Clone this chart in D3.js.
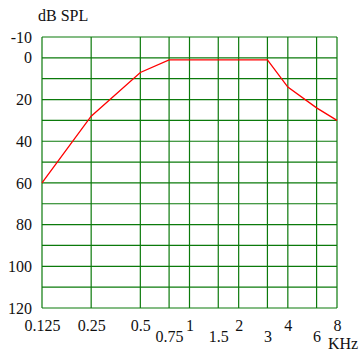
<!DOCTYPE html>
<html>
<head>
<meta charset="utf-8">
<script src="https://cdn.jsdelivr.net/npm/d3@7"></script>
<style>
  body { margin: 0; background: #fff; }
  svg { display: block; }
  text { font-family: "Liberation Serif", "Times New Roman", serif; fill: #111; }
</style>
</head>
<body>
<div id="chart"></div>
<script>
// audiogram-style response curve
const freqTicks = [0.125, 0.25, 0.5, 0.75, 1, 1.5, 2, 3, 4, 6, 8];
const freqLabels = ["0.125", "0.25", "0.5", "0.75", "1", "1.5", "2", "3", "4", "6", "8"];
const lowLabels = [0.75, 1.5, 3, 6]; // these sit one line lower
const dbLabels = [-10, 0, 20, 40, 60, 80, 100, 120];
const dbGrid = [-10, 0, 10, 20, 30, 40, 50, 60, 70, 80, 90, 100, 110, 120];

const curveFreq = [0.125, 0.25, 0.5, 0.75, 3, 4, 6, 8];
const curveDb = [60, 28, 7, 1, 1, 14, 24, 30];

const W = 360, H = 351;
const plotLeft = 42, plotRight = 337, plotTop = 37, plotBottom = 308;

const svg = d3.select("#chart").append("svg")
    .attr("width", W)
    .attr("height", H);

const x = d3.scaleLog().domain([0.125, 8]).range([plotLeft, plotRight]);
const y = d3.scaleLinear().domain([-10, 120]).range([plotTop, plotBottom]);

const gridColor = "#0b7a0b";

// horizontal grid
svg.append("g").selectAll("line")
    .data(dbGrid).enter()
    .append("line")
    .attr("x1", plotLeft).attr("x2", plotRight)
    .attr("y1", d => y(d)).attr("y2", d => y(d))
    .attr("stroke", gridColor)
    .attr("stroke-width", 1.2);

// vertical grid
svg.append("g").selectAll("line")
    .data(freqTicks).enter()
    .append("line")
    .attr("x1", d => x(d)).attr("x2", d => x(d))
    .attr("y1", plotTop).attr("y2", plotBottom)
    .attr("stroke", gridColor)
    .attr("stroke-width", 1.2);

// y labels (plain hyphen for -10)
const yAxis = svg.append("g")
    .attr("transform", "translate(" + plotLeft + ",0)")
    .call(d3.axisLeft(y).tickValues(dbLabels).tickSize(0).tickPadding(10).tickFormat(d => String(d)));
yAxis.select(".domain").remove();
yAxis.selectAll("text")
    .attr("font-size", 16)
    .attr("fill", "#111");

// x labels
const xAxis = svg.append("g")
    .attr("transform", "translate(0," + plotBottom + ")")
    .call(d3.axisBottom(x).tickValues(freqTicks).tickSize(0)
        .tickFormat((d, i) => freqLabels[i]));
xAxis.select(".domain").remove();
xAxis.selectAll("text")
    .attr("font-size", 16)
    .attr("fill", "#111")
    .attr("dy", null)
    .attr("y", d => lowLabels.includes(d) ? 33.5 : 23);

// axis titles
svg.append("text")
    .attr("x", 38).attr("y", 21)
    .attr("font-size", 16)
    .text("dB SPL");

svg.append("text")
    .attr("x", 328).attr("y", 349)
    .attr("font-size", 16)
    .text("KHz");

// curve
const line = d3.line()
    .x((d, i) => x(curveFreq[i]))
    .y(d => y(d));

svg.append("path")
    .datum(curveDb)
    .attr("d", line)
    .attr("fill", "none")
    .attr("stroke", "#ff0000")
    .attr("stroke-width", 1.3);
</script>
</body>
</html>
